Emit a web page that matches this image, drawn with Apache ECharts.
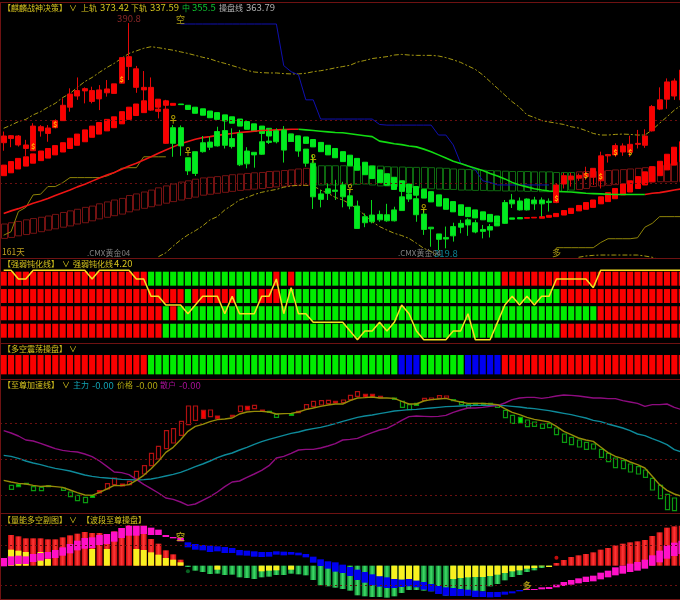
<!DOCTYPE html>
<html><head><meta charset="utf-8">
<style>html,body{margin:0;padding:0;background:#000}#c{width:680px;height:600px}</style>
<script src="https://cdn.jsdelivr.net/npm/echarts@6/dist/echarts.min.js"></script>
</head><body><div id="c"></div>
<script>
const _=null;
const categories=Array.from({length:93},(v,i)=>'D'+(i+1));
// ---- price panel (candles)
const kTop=[355.5,355.6,355.5,352.7,358.6,358.4,358.0,360.3,365.1,368.6,369.7,370.3,369.7,369.9,370.2,371.8,380.0,380.3,376.5,370.7,370.7,363.9,363.9,358.1,358.1,348.7,350.6,353.4,353.6,356.9,357.2,354.7,356.3,350.8,350.4,353.7,353.9,357.1,357.4,356.1,355.5,351.4,347.0,337.4,339.0,338.6,340.2,336.8,333.6,330.3,330.8,331.0,330.9,332.4,336.5,337.4,335.9,331.1,327.0,324.9,323.8,327.2,328.2,329.3,328.4,326.3,327.2,328.4,334.7,335.5,335.2,335.8,335.5,335.5,335.1,340.2,343.1,343.0,343.2,343.8,345.4,349.3,349.7,352.5,352.4,352.9,353.2,355.5,364.7,366.8,372.4,372.7,376.1];
const kBot=[353.4,354.7,352.7,351.6,350.9,357.1,356.3,358.1,360.3,364.5,368.0,369.6,366.3,367.1,369.0,368.8,372.0,377.2,370.7,369.9,363.8,363.2,353.2,353.2,352.4,344.6,343.8,350.6,352.0,352.4,352.6,352.2,346.5,346.8,349.6,349.8,353.5,353.7,351.1,353.8,350.8,347.0,336.5,335.7,337.6,338.2,336.5,333.6,326.6,328.4,328.7,329.3,329.0,329.0,332.2,335.8,330.9,326.3,326.5,323.2,323.3,324.3,327.0,327.7,325.5,325.7,326.1,327.4,328.2,334.3,332.4,332.4,334.3,334.3,334.7,334.7,340.5,341.8,342.3,342.8,342.6,341.5,349.3,349.6,350.5,350.4,352.9,352.6,357.1,363.9,367.0,368.0,366.8];
const kHigh=[356.9,355.8,355.8,354.3,359.5,358.9,358.9,360.7,367.3,370.4,373.8,370.7,370.9,371.4,373.0,371.8,380.0,390.8,377.4,375.8,373.8,367.0,366.8,358.9,358.8,348.7,350.6,355.5,355.3,358.4,360.5,357.9,357.4,352.0,350.4,356.9,357.9,357.9,358.6,356.1,355.5,351.4,349.6,338.6,340.7,341.8,341.2,338.6,335.3,331.3,335.5,332.2,334.3,333.4,339.1,340.5,337.1,332.6,327.0,324.9,327.2,328.4,329.3,329.8,329.3,327.7,328.0,328.4,335.5,337.4,336.3,336.0,336.5,336.3,336.0,340.7,344.0,344.0,343.8,345.9,345.4,350.6,349.9,353.2,353.2,355.6,357.4,357.6,365.2,370.7,373.5,373.5,376.1];
const kLow=[350.9,352.0,352.2,349.3,350.9,355.3,353.7,357.9,360.3,363.1,366.8,365.7,365.7,363.6,367.8,368.8,372.0,373.0,369.0,366.2,363.4,361.0,353.0,349.0,349.3,343.3,343.0,350.3,351.1,352.2,351.6,351.6,346.1,345.4,345.6,349.6,353.0,353.2,347.2,353.8,349.0,345.9,332.7,333.2,335.5,335.5,333.2,332.6,326.6,327.0,328.2,328.7,328.7,328.8,332.2,334.9,328.7,324.6,320.9,319.8,320.4,322.5,325.1,324.3,325.1,323.5,323.8,327.4,328.0,333.0,332.2,332.2,332.4,330.3,331.9,334.5,339.1,339.7,341.5,341.8,340.2,339.1,347.2,349.0,349.3,349.0,351.6,351.8,356.9,363.6,364.0,366.8,366.8];
const kRuns=[['R',23],['G',52],['R',18]];
// thick ribbon
const ribTop=[346.4,347.5,348.5,349.0,349.9,350.8,351.6,352.5,353.4,354.8,356.1,357.4,358.6,359.7,360.7,361.5,363.1,364.5,365.5,366.5,367.0,367.0,366.5,365.7,365.5,365.1,364.5,364.0,363.3,362.8,362.1,361.5,360.8,360.0,359.3,358.6,357.9,357.2,356.5,356.1,355.5,355.2,354.4,353.5,352.6,351.6,350.6,349.5,348.5,347.3,346.1,344.9,343.7,342.6,341.5,340.5,339.7,338.8,338.1,337.1,335.9,335.0,334.0,333.2,332.4,331.8,331.0,330.5,329.9,329.9,330.0,330.0,330.1,330.3,330.7,331.3,332.2,332.9,333.8,334.7,335.5,336.5,337.8,339.1,340.5,341.5,342.8,344.3,345.9,347.6,349.8,352.0,353.7];
const ribBot=[343.1,344.0,345.2,346.1,347.0,347.8,348.6,349.6,350.5,351.6,352.6,353.7,355.1,356.1,357.1,358.1,359.3,360.7,361.9,362.8,363.6,364.5,365.1,365.1,365.3,363.8,362.6,362.0,361.2,360.7,360.2,359.5,358.6,357.6,356.9,356.3,355.5,355.1,354.5,353.8,353.4,353.2,352.1,350.6,349.6,348.7,347.5,346.2,344.8,343.4,342.2,340.9,340.1,338.8,338.2,337.8,337.0,336.1,334.9,333.6,332.6,331.8,330.7,330.3,329.9,329.3,328.7,328.4,329.3,329.5,329.6,329.8,329.9,329.8,330.1,330.3,330.8,331.3,332.1,332.6,333.2,334.3,335.0,335.9,337.1,338.0,339.1,340.2,341.2,343.1,344.9,346.4,347.5];
const ribRuns=[['R',24],['G',47],['R',22]];
// hollow band
const bandTop=[328.0,328.4,328.8,329.3,329.7,330.1,330.5,331.0,331.6,332.1,332.6,333.2,333.6,334.3,334.9,335.5,336.0,336.9,337.4,338.0,338.6,339.3,339.9,340.5,341.1,341.5,342.0,342.4,342.6,342.8,343.1,343.4,343.6,343.8,344.0,344.1,344.4,344.5,344.7,344.9,345.2,345.4,345.9,346.2,346.2,346.2,346.2,346.1,346.1,346.2,346.2,346.1,345.9,345.8,345.8,345.7,345.7,345.7,345.6,345.5,345.4,345.2,345.1,345.0,344.9,344.8,344.7,344.6,344.5,344.4,344.4,344.4,344.3,344.3,344.3,344.1,344.1,344.1,344.3,344.4,344.4,344.6,344.7,344.9,345.0,345.2,345.4,345.6,345.9,346.3,346.8,347.3,347.8];
const bandBot=[323.5,323.8,324.3,324.7,325.1,325.6,326.1,326.5,327.0,327.4,328.0,328.4,329.0,329.6,330.1,330.6,331.1,331.8,332.4,332.9,333.4,333.9,334.5,335.0,335.5,336.0,336.4,337.0,337.3,337.6,337.9,338.2,338.5,338.7,338.9,339.1,339.4,339.6,339.8,340.0,340.1,340.1,340.1,340.2,340.2,340.2,340.4,340.2,340.4,340.5,340.2,339.9,339.9,339.7,339.5,339.4,339.3,339.1,339.0,338.9,338.8,338.8,338.6,338.6,338.5,338.5,338.4,338.4,338.3,338.3,338.3,338.2,338.2,338.1,338.1,338.1,338.2,338.6,338.8,339.1,339.7,339.9,340.1,340.3,340.5,340.7,340.8,340.9,341.1,341.2,341.2,341.2,341.2];
const bandRuns=[['R',42],['G',36],['R',15]];
// lines
const upperBand=[357.9,358.9,360.0,360.7,362.1,363.1,364.5,365.7,367.5,368.8,370.7,372.5,373.8,375.4,376.9,378.2,379.8,381.3,382.1,382.9,383.4,383.1,382.7,382.3,381.8,381.3,380.7,380.1,379.6,378.8,378.2,377.5,376.8,376.0,375.5,375.3,375.2,375.2,375.0,374.9,374.9,375.1,375.6,375.9,376.3,376.8,377.2,377.6,378.6,379.1,379.7,380.0,380.3,380.8,381.0,380.8,380.7,380.7,380.7,380.5,380.0,379.3,378.5,377.4,376.3,374.6,372.5,370.4,368.3,366.2,364.5,362.1,361.3,360.3,359.9,359.5,359.1,358.4,358.0,357.2,356.3,355.8,355.8,356.0,356.1,356.0,355.8,355.8,357.4,359.5,361.5,363.6,365.2];
const lowerBandA=[317.8,319.0,321.1,323.0,324.6,325.9,327.4,329.3,330.3,332.4,333.9,335.5,336.3,337.2,337.9,338.4,338.8,339.5,339.9,340.1,340.1,339.9,338.6,337.6,336.3,335.5,334.3,332.6,330.8,328.7,327.2,326.1,325.1,324.4,323.5,322.0,320.4,319.4,318.0];
const lowerBandB=[317.6,318.0,318.2,318.3,318.3,318.3,318.3,318.3,318.3,318.0,317.6,316.8];
const maLine=[331.3,332.1,332.8,333.6,334.5,335.2,336.0,336.9,337.8,338.6,339.6,340.4,341.4,342.4,343.3,344.1,345.1,346.1,347.0,348.0,349.0,350.1,351.1,352.1,353.1,353.8,354.5,355.0,355.3,355.7,356.0,356.3,356.6,356.8,357.0,357.2,357.3,357.4,357.5,357.6,357.6,357.4,357.2,357.0,356.8,356.6,356.5,356.2,355.9,355.6,355.3,353.9,353.5,353.1,352.8,352.4,352.1,351.4,350.6,349.6,348.6,347.6,346.9,346.1,345.4,344.7,343.8,343.0,342.1,341.0,340.2,339.6,339.0,338.6,338.3,338.2,338.1,338.0,337.8,337.6,337.5,337.4,337.3,337.2,337.2,337.2,337.2,337.2,337.6,337.8,338.2,338.6,339.0];
const blueStep=[390.5,390.5,390.5,390.5,390.5,390.5,390.5,390.5,390.5,390.5,390.5,390.5,390.5,390.5,377.5,375.6,374.6,366.8,366.8,360.8,360.8,360.8,360.8,360.8,360.8,360.8,360.8,359.1,358.9,358.9,358.9,358.9,358.9,358.9,358.9,355.8,355.8,352.7,347.0,346.2,344.9,341.5,341.0,340.2,340.2,340.2,340.2,340.2,340.2,340.2,340.2];
const oliveStepA=[324.5,325.6,331.9,333.2,337.1,337.3,339.7,339.7,340.9,342.5,342.5,342.5,342.5,342.5,343.0,344.0,345.4,345.6,345.6,349.0,349.0,349.0,349.0];
const oliveStepB=[320.6,320.6,320.6,320.6,320.6,320.6,322.2,323.4,323.4,323.4,323.4,323.7,327.0,328.2,330.3,330.3,330.3,330.3];
const priceLevels=[360.4,340.7];
const upMarks=[[4,352.4],[7,359.3],[16,373.4],[75,336.0],[79,343.4],[81,343.0],[83,350.4],[85,350.4]];
const downMarks=[[23,360.5],[25,350.6],[42,348.3],[47,339.1],[57,332.9]];
// ---- strength rows
const rowA=[['R',20],['G',17],['R',1],['G',1],['R',1],['G',28],['R',25]];
const rowB=[['R',25],['G',1],['R',6],['G',3],['R',3],['G',38],['R',17]];
const rowC=[['R',22],['G',1],['R',1],['G',57],['R',12]];
const rowD=[['R',22],['G',54],['R',17]];
const strengthLine=[4,4,3.5,3.5,4,4,4,4,4,4,4,4,3.5,4,4,4,4,4,3.5,3.5,2.5,2.5,2,2,2,1.5,2,2.5,2.5,2.5,1.5,2.5,1.5,1.5,1.5,2.5,2.5,3.5,1.5,3,1.5,1.5,1,1,1,1,1,.5,0,.5,.5,1,.5,1,2,1.5,.5,0,0,0,0,.5,.5,1.5,0,0,0,1,2,2.5,2,2.5,2,2.5,2.5,3.5,3.5,3.5,3.5,3.5,3,4,4,4,4,4,4,4,4,4,4,4,4];
const swingRow=[['R',20],['G',34],['B',3],['G',6],['B',5],['R',25]];
// ---- acceleration panel
const priceLine=[-5.7,-6.2,-6.6,-6.8,-7.2,-7.5,-7.4,-7.6,-7.8,-8.6,-9.4,-10.1,-10.2,-9.3,-8.3,-7.2,-7.3,-7.0,-5.7,-4.2,-2.2,0,2.7,4.2,6.5,9.0,10.5,11.1,11.9,12.5,12.7,13.0,14.2,14.8,15.0,15.0,14.8,14.2,14.3,14.4,14.8,15.5,16.0,16.5,16.9,17.2,17.2,18.2,19.0,19.1,19.3,19.0,19.0,18.9,18.0,17.2,17.2,18.1,18.5,18.7,18.9,18.3,17.8,17.4,17.4,17.4,17.2,17.0,15.8,14.7,14.0,13.2,12.6,12.2,11.8,10.5,9.0,8.0,7.0,6.4,6.0,4.3,2.6,1.5,0.8,-0.2,-1.0,-2.0,-4.5,-7.0,-8.7,-9.8,-10.5];
const mainLine=[1.8,1.5,.9,.1,-.5,-1,-1.6,-2.1,-2.5,-2.9,-3.5,-4.1,-4.5,-4.8,-5,-5.2,-5.4,-5.5,-5.6,-5.5,-5.3,-4.9,-4.4,-3.9,-3.3,-2.5,-1.6,-.8,.1,1.1,1.9,2.5,3.4,4.2,5.1,5.9,6.6,7.2,7.8,8.4,8.8,9.4,9.8,10.2,10.7,11.3,12.0,12.6,13.2,13.6,13.9,14.3,14.7,15.1,15.3,15.5,15.6,15.8,16.0,16.2,16.4,16.5,16.6,16.7,16.8,16.8,16.8,16.8,16.7,16.5,16.3,16.0,15.8,15.5,15.2,14.8,14.4,14.0,13.5,13.0,12.3,11.9,11.2,10.6,10.0,9.2,8.2,7.7,6.8,6.0,5.0,3.5,2.8];
const retailLine=[9.2,8.5,7.6,6.4,6.1,5.4,4.6,3.8,3.3,3.0,2.8,2.2,1.4,.1,-1.5,-3.2,-3.4,-4,-5.4,-6.9,-8.2,-9.5,-11,-11.4,-12.2,-13.2,-12.8,-11.7,-10.6,-9.2,-7.6,-6.2,-5.9,-4.8,-3.8,-2.7,-1.3,1,1.5,2.4,3.4,3.6,3.6,4,4.6,5.3,6.4,6.6,6.9,7.8,8.6,9.4,9.9,11,12.3,13.4,13.6,13.5,13.4,13.5,13.8,14.7,15.4,16,16,16.2,16.5,16.7,17.5,18.5,19,19.2,19.2,18.9,19.2,19.6,19.9,19.8,19.6,19.3,19,19,18.8,18.8,18.2,17.8,17.4,16.5,17,17,17.2,16.2,15.5];
const accelTop=[_,-7.2,-7.0,-6.6,-7.6,-7.8,-7.3,_,-8,-9.2,-10.2,-10.8,-10.2,-8.8,-6.7,-5,-6.8,-6,-3,-1.3,2.4,4.5,9.2,9.8,12,16.6,16.6,15.3,15.4,13.6,_,13.8,16.6,16.5,16.8,15.4,15,14.1,_,14.3,15,17,18,18.2,18.3,18,18.4,19.8,20.9,20.1,20.1,19.5,_,19,18,17,17.4,18.9,19,19.7,19.6,18.5,17.9,17,17.4,17.4,17.4,17,15.3,13.8,13.2,12.4,11.8,11.2,11.3,10,8.2,7.2,6.4,5.7,5.2,3.6,2.4,1,.2,-.8,-1.6,-2.6,-5.1,-7.2,-9.9,-11,_];
const accelBot=[_,-8.4,-7.6,-6.8,-8.8,-8.8,-7.6,_,-8.7,-10.6,-11.8,-12.4,-10.8,-9.5,-8.3,-7,-7.4,-7,-5.3,-3.8,-1.3,.7,3.8,5.5,7.8,11,12.3,12.9,13.4,12.9,_,13.4,14.9,15.4,15.8,15.0,14.7,13.2,_,13.8,14.6,15.7,16.5,16.9,17.3,17.5,17.6,18.5,19.5,19.3,19.4,19.1,_,18.6,16.2,15.5,16.8,18.3,18.5,18.9,19,18.2,17,16,17,17,17.2,16.2,13.1,11.4,11.5,10.4,10.5,9.9,10.1,8,5.7,5,4.3,3.6,3.7,1.2,-.1,-1.9,-2.2,-3.2,-3.8,-4.8,-8.6,-11.2,-14.5,-14.8,_];
const accelRedRanges=[[13,35],[40,51],[57,60]];
const accelFilled=[2,3,6,12,13,16,27,29,31,33,35,36,39,40,45,49,50,51,53,56,61,64,65,66,70];
const accelLevels=[11.4,0.6,-10.2];
// ---- volume panel
const volume=[_,9.2,8.8,8.2,8.2,8.2,7.9,7.9,8.5,9.1,9.6,10.1,9.8,9.8,9.5,10.3,11.3,12.1,11.8,9.5,8.0,6.6,4.6,3.4,1.8,-0.4,-1.5,-1.9,-2.5,-2.4,-2.8,-2.7,-3.5,-3.7,-4.0,-3.5,-3.3,-2.8,-2.8,-2.4,-2.6,-2.9,-4.3,-5.9,-6.2,-6.6,-7.0,-7.5,-8.9,-9.2,-9.4,-9.4,-9.6,-9.2,-8.2,-7.3,-7.3,-7.5,-7.7,-8.5,-9.0,-9.1,-9.1,-8.9,-7.7,-7.7,-6.2,-5.5,-4.4,-3.4,-2.8,-1.9,-1.4,-0.7,-0.4,0.8,1.7,2.6,3.1,3.5,4.0,4.8,5.3,6.1,6.6,7.0,7.3,7.7,8.9,10.0,11.4,11.8,12.0];
const yellowPart=[_,4.8,4.5,4.1,_,4.1,2.0,_,_,_,_,_,5.0,_,5.0,_,_,_,5.0,4.7,4.0,3.3,2.3,1.8,1.0,_,_,_,_,-1.2,_,_,_,_,_,-1.7,-1.5,-1.4,_,-1.2,_,_,_,_,_,_,_,_,_,_,_,-3.2,_,-4.0,-4.2,-4.0,-4.5,_,_,_,_,-4.0,-3.7,-3.5,-3.4,-3.4,-3.1,-2.7,-2.2,-1.7,-1.4,-0.9,-0.7,-0.2,-0.4,_,_,_,_,_,_,_,_,_,_,_,_,_,_,_,_,_,_];
const waveTop=[2.3,2.8,3.0,2.8,3.5,3.8,4.1,4.7,5.5,6.5,7.5,8.3,8.5,9.2,9.5,10.2,11.3,12.0,12.0,12.0,11.4,10.8,9.2,8.6,8.3,7.0,6.5,6.2,6.0,5.8,5.6,5.3,4.7,4.5,4.3,4.1,4.1,4.3,4.2,4.1,3.9,3.5,2.7,1.9,1.3,1.0,0.3,-0.4,-1.2,-1.9,-2.6,-3.2,-3.5,-4.0,-4.2,-4.0,-4.5,-4.9,-5.5,-6.1,-6.5,-6.7,-7.0,-7.2,-7.5,-7.7,-7.9,-7.9,-7.8,-7.7,-7.3,-7.0,-7.0,-6.5,-6.4,-5.7,-4.9,-4.3,-3.8,-3.3,-3.0,-2.1,-1.5,-0.5,0.0,0.6,1.1,1.8,3.1,4.5,6.1,6.9,7.5];
const waveBot=[-0.2,0.1,0.5,0.5,1.1,1.5,2.1,2.3,3.0,3.7,4.6,5.1,5.3,6.2,6.5,7.2,8.3,9.0,9.0,9.5,9.2,9.2,8.6,8.2,7.3,5.5,4.8,4.6,4.1,4.3,3.8,3.8,3.1,3.0,2.7,2.6,2.7,3.3,3.1,3.3,3.1,2.5,0.9,-0.1,-0.9,-1.8,-2.2,-3.1,-4.3,-5.1,-5.9,-6.3,-6.7,-6.7,-6.4,-6.2,-6.5,-7.2,-7.7,-8.5,-9.0,-9.1,-9.1,-9.0,-9.4,-9.4,-9.5,-9.4,-8.7,-8.3,-7.7,-7.3,-7.3,-7.1,-7.0,-6.5,-6.1,-5.7,-5.3,-4.9,-4.7,-4.1,-3.5,-2.9,-2.4,-1.9,-1.5,-0.9,0.0,1.0,2.1,2.9,3.5];
const waveRuns=[['M',25],['B',46],['M',22]];
const volLevels=[12.2,6.1,-5.9];

// ---- text
const GOLD='#d6c41e', TEAL='#12a3b5', OLIVE='#b0a610', PURP='#a81098';
const texts=[
 ['【麒麟战神决策】',3,7.5,GOLD,8],['∨',69,7.5,GOLD,8],['上轨',81,7.5,GOLD,8],['373.42',100,7.5,GOLD,9.5],['下轨',131,7.5,GOLD,8],['337.59',150,7.5,GOLD,9.5],['中',182,7.5,'#10c030',8],['355.5',192,7.5,'#10c030',9.5],['操盘线',219,7.5,'#b4b4b4',8],['363.79',246,7.5,'#b4b4b4',9.5],
 ['161天',2,251.5,'#c0a020',8.5],['.CMX黄金04',87,253,'#808080',8],['.CMX黄金04',398,253,'#808080',8],
 ['【强弱钝化线】',3,263.5,GOLD,8],['∨',62,263.5,GOLD,8],['强弱钝化线',73,263.5,GOLD,8],['4.20',114,263.5,GOLD,9.5],
 ['【多空震荡操盘】',3,349,GOLD,8],['∨',69,349,GOLD,8],
 ['【至尊加速线】',3,385,GOLD,8],['∨',62,385,GOLD,8],['主力',73,385,TEAL,8],['-0.00',92,385,TEAL,9.5],['价格',117,385,OLIVE,8],['-0.00',136,385,OLIVE,9.5],['散户',160,385,PURP,8],['-0.00',179,385,PURP,9.5],
 ['【量能多空副图】',3,519.5,GOLD,8],['∨',69,519.5,GOLD,8],['【波段至尊操盘】',82,519.5,GOLD,8]
];
const frameY=[2,258,343,379,513,599];

// ---- helpers
const expand=r=>r.flatMap(([c,n])=>Array(n).fill(c));
const at=(s,a)=>Array(s).fill(null).concat(a);
const F='"Noto Sans CJK SC","Liberation Sans",sans-serif';
const COL={R:'#fa0000',G:'#00ec00',B:'#0000f0',M:'#ff10c8'};
function cellSeries(grid,runs,lo,hi,color,w,z){
  const arr=expand(runs);
  return {type:'custom',xAxisIndex:grid,yAxisIndex:grid,z:z||2,silent:true,animation:false,
    data:arr.map((c,i)=>[i,lo[i]!==undefined?lo[i]:lo,hi[i]!==undefined?hi[i]:hi,c==='R'?0:c==='G'?1:c==='B'?2:3]),
    encode:{x:0,y:[1,2]},
    renderItem:(p,api)=>{
      const i=api.value(0),a=api.coord([i,api.value(1)]),b=api.coord([i,api.value(2)]);
      const c=color[api.value(3)];
      return {type:'rect',shape:{x:a[0]-w/2,y:b[1],width:w,height:Math.max(a[1]-b[1],1)},style:{fill:c}};
    }};
}
const rowColor=[COL.R,COL.G,COL.B,COL.M];
function candle(top,bot,high,low,runs,w,z,up,down,upB,downB){
  const d=expand(runs);
  return {type:'candlestick',xAxisIndex:0,yAxisIndex:0,barWidth:w,z:z,silent:true,animation:false,
    itemStyle:{color:up,color0:down,borderColor:upB,borderColor0:downB,borderWidth:1},
    data:top.map((t,i)=>d[i]==='R'?[bot[i],t,low[i],high[i]]:[t,bot[i],low[i],high[i]])};
}
function line(g,data,color,width,type,z){
  return {type:'line',xAxisIndex:g,yAxisIndex:g,data:data,symbol:'none',silent:true,animation:false,z:z||4,
    lineStyle:{color:color,width:width,type:type||'solid'},connectNulls:false};
}
function levels(g,vals){
  return {type:'line',xAxisIndex:g,yAxisIndex:g,data:[vals[0]],symbol:'none',silent:true,animation:false,z:1,lineStyle:{width:0},
    markLine:{silent:true,animation:false,symbol:'none',label:{show:false},lineStyle:{color:'#6a1010',type:[2,3],width:1},data:vals.map(v=>({yAxis:v}))}};
}
function marks(g,pts,size,color,z,bold){
  return {type:'scatter',xAxisIndex:g,yAxisIndex:g,symbolSize:1,z:z||8,silent:true,animation:false,itemStyle:{color:'rgba(0,0,0,0)'},
    data:pts.map(p=>({value:[p[0],p[1]],text:p[2]})),
    label:{show:true,position:'inside',formatter:o=>o.data.text,fontFamily:F,fontSize:size,color:color,fontWeight:bold?'bold':'normal'}};
}
function dots(g,pts,color,size){
  return {type:'scatter',xAxisIndex:g,yAxisIndex:g,symbolSize:size,z:8,silent:true,animation:false,itemStyle:{color:color},data:pts};
}

// ---- grids
const gridDefs=[[2,256,317.375,397.375],[258,85,-0.19,4.71],[343,36,-0.24,1.62],[379,134,-15.5,24.7],[513,86,-10,15.8]];
const W=7.37*93;
const grid=gridDefs.map(g=>({left:0,top:g[0],width:W,height:g[1],show:false,outerBoundsMode:'none',containLabel:false}));
const xAxis=gridDefs.map((g,i)=>({type:'category',gridIndex:i,data:categories,show:false,boundaryGap:true}));
const yAxis=gridDefs.map((g,i)=>({type:'value',gridIndex:i,min:g[2],max:g[3],show:false,splitLine:{show:false}}));

// band
const bandCol=expand(bandRuns);
const bandSeries={type:'custom',xAxisIndex:0,yAxisIndex:0,z:2,silent:true,animation:false,
  data:bandTop.map((t,i)=>[i,bandBot[i],t,bandCol[i]==='R'?0:1]),encode:{x:0,y:[1,2]},
  renderItem:(p,api)=>{
    const i=api.value(0),a=api.coord([i,api.value(1)]),b=api.coord([i,api.value(2)]);
    return {type:'rect',shape:{x:Math.round(a[0]-3)+.5,y:b[1],width:6,height:a[1]-b[1]},style:{fill:null,stroke:api.value(3)?'#0e6a10':'#741212',lineWidth:1}};
  }};
// acceleration candles
const isRed=i=>accelRedRanges.some(r=>i>=r[0]&&i<=r[1]);
const accelSeries={type:'custom',xAxisIndex:3,yAxisIndex:3,z:3,silent:true,animation:false,
  data:accelTop.map((t,i)=>t===null?null:[i,accelBot[i],t,isRed(i)?1:0,accelFilled.includes(i)?1:0]).filter(Boolean),
  encode:{x:0,y:[1,2]},
  renderItem:(p,api)=>{
    const i=api.value(0),a=api.coord([i,api.value(1)]),b=api.coord([i,api.value(2)]);
    const red=api.value(3),fill=api.value(4);
    return {type:'rect',shape:{x:Math.round(a[0]-2)+.5,y:b[1],width:4,height:a[1]-b[1]},
      style:{fill:fill?(red?'#ff0000':'#00ee00'):'#000',stroke:red?'#b01010':'#0b9a10',lineWidth:1.2}};
  }};
// volume
const grad=(e,c)=>new echarts.graphic.LinearGradient(0,0,1,0,[{offset:0,color:e},{offset:.5,color:c},{offset:1,color:e}]);
const redG=grad('#cc0c0c','#ff3636'), greenG=grad('#0d8030','#3ede68');
const volSeries={type:'bar',xAxisIndex:4,yAxisIndex:4,barWidth:6,barGap:'-100%',z:2,silent:true,animation:false,
  data:volume.map(v=>v===null?null:{value:v,itemStyle:{color:v>0?redG:greenG}})};
const yelSeries={type:'bar',xAxisIndex:4,yAxisIndex:4,barWidth:6,barGap:'-100%',z:3,silent:true,animation:false,itemStyle:{color:'#f8f020'},data:yellowPart};

const series=[
  levels(0,priceLevels),bandSeries,
  candle(ribTop,ribBot,ribTop,ribBot,ribRuns,5.5,3,COL.R,'#00e81c',COL.R,'#00e81c'),
  line(0,upperBand,'#a59810',1,[5,2,2,2]),
  line(0,at(21,lowerBandA),'#a59810',1,[5,2,2,2]),
  line(0,at(78,lowerBandB),'#a59810',1,[5,2,2,2]),
  line(0,maLine.map((v,i)=>(i<=40||i>=87)?v:null),'#ee1414',1.6,'solid',5),
  line(0,maLine.map((v,i)=>(i>=40&&i<=87)?v:null),'#12dc12',1.6,'solid',5),
  line(0,at(24,blueStep),'#1010b0',1),
  line(0,oliveStepA,'#8e8408',1),
  line(0,at(75,oliveStepB),'#8e8408',1),
  candle(kTop,kBot,kHigh,kLow,kRuns,5.5,6,COL.R,'#00ec20','#e40808','#08d81c'),
  marks(0,upMarks.map(p=>[p[0],p[1],'$']),7.5,'#ffd800',9,true),
  marks(0,downMarks.map(p=>[p[0],p[1],'♀']),9,'#d8c000',9,true),
  marks(0,[[24,391.8,'空'],[75,319.1,'多']],9,'#d4c018',9),
  marks(0,[[17,392.3,'390.8']],9.5,'#a83030',9),
  marks(0,[[60,318.9,'319.8']],9.5,'#12a6bc',9),
  // strength rows
  cellSeries(1,rowA,3.115,3.92,rowColor,6.1),
  cellSeries(1,rowB,2.115,2.92,rowColor,6.1),
  cellSeries(1,rowC,1.12,1.93,rowColor,6.1),
  cellSeries(1,rowD,0.115,0.92,rowColor,6.1),
  line(1,strengthLine,'#f5e020',1.5,'solid',5),
  cellSeries(2,swingRow,0,1,rowColor,6.1),
  // acceleration
  levels(3,accelLevels),accelSeries,
  line(3,mainLine,'#0e8a9a',1.4),line(3,retailLine,'#8e0c80',1.4),line(3,priceLine,'#968c08',1.4,'solid',5),
  // volume
  levels(4,volLevels),volSeries,yelSeries,
  cellSeries(4,waveRuns,waveBot,waveTop,rowColor,6.6,4),
  marks(4,[[24,8.6,'空'],[71,-5.9,'多']],9,'#c8b418',9,true),
  dots(4,[[75,2.4]],'#f01010',4),dots(4,[[25,-1.7]],'#0a7a2a',4)
];
const graphic=frameY.map(y=>({type:'line',shape:{x1:0,y1:y+.5,x2:680,y2:y+.5},style:{stroke:'#6e1212',lineWidth:1},silent:true,z:20}))
 .concat([{type:'line',shape:{x1:.5,y1:2,x2:.5,y2:600},style:{stroke:'#6e1212',lineWidth:1},silent:true,z:20}])
 .concat(texts.map(t=>({type:'text',x:t[1],y:t[2],silent:true,z:21,style:{text:t[0],fill:t[3],font:t[4]+'px '+F,textVerticalAlign:'middle',textAlign:'left'}})));
const chart=echarts.init(document.getElementById('c'),null,{renderer:'canvas',width:680,height:600});
chart.setOption({backgroundColor:'#000',animation:false,grid,xAxis,yAxis,series,graphic,tooltip:{show:false},legend:{show:false}});
</script></body></html>
